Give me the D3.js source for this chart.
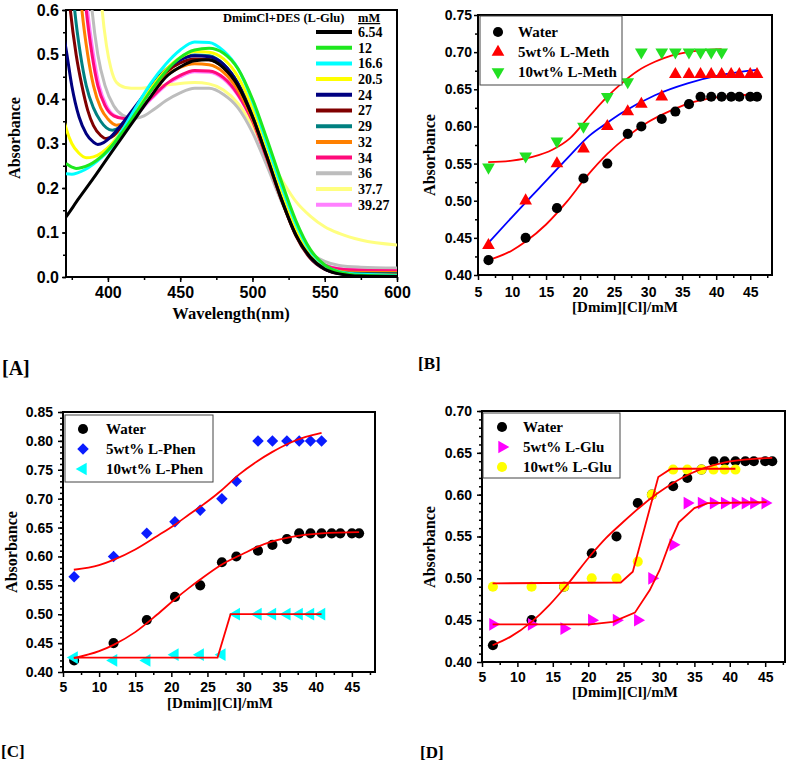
<!DOCTYPE html>
<html>
<head>
<meta charset="utf-8">
<script src="https://cdn.jsdelivr.net/npm/d3@7"></script>
<style>
body { margin: 0; background: #fff; }
</style>
</head>
<body>
<div id="chart"></div>
<script>
// ---------- panel A : spectra (wavelength nm, absorbance) ----------
const concLabels = ["6.54", "12", "16.6", "20.5", "24", "27", "29", "32", "34", "36", "37.7", "39.27"];
const specColors = ["#000000", "#1ee81e", "#00ffff", "#ffff00", "#000080", "#800000",
                    "#008080", "#ff8000", "#ff0a7a", "#bdbdbd", "#ffff80", "#ff80ff"];

const spec654 = [[369,0.126],[371,0.135],[380,0.177],[390,0.222],[400,0.269],[410,0.315],[420,0.361],[430,0.407],[440,0.449],[450,0.472],[460,0.486],[470,0.488],[480,0.47],[490,0.43],[500,0.36],[510,0.27],[520,0.175],[530,0.095],[540,0.045],[550,0.018],[560,0.007],[575,0.002],[600,0.001]];
const spec12 = [[371,0.255],[375,0.247],[378,0.244],[382,0.246],[387,0.252],[392,0.262],[397,0.275],[402,0.292],[410,0.325],[420,0.372],[430,0.42],[440,0.462],[450,0.493],[460,0.51],[470,0.514],[480,0.503],[490,0.468],[500,0.4],[510,0.31],[520,0.215],[530,0.127],[540,0.062],[550,0.027],[560,0.011],[575,0.004],[600,0.002]];
const spec166 = [[371,0.232],[375,0.231],[379,0.234],[384,0.241],[390,0.254],[396,0.27],[402,0.29],[410,0.33],[420,0.385],[430,0.437],[440,0.478],[450,0.51],[460,0.528],[470,0.527],[480,0.508],[490,0.468],[500,0.395],[510,0.3],[520,0.205],[530,0.12],[540,0.058],[550,0.026],[560,0.012],[575,0.006],[600,0.004]];
const spec205 = [[369,0.36],[371,0.335],[375,0.3],[380,0.278],[385,0.268],[390,0.27],[396,0.28],[402,0.297],[410,0.33],[420,0.377],[430,0.425],[440,0.465],[450,0.493],[460,0.507],[470,0.505],[480,0.49],[490,0.45],[500,0.38],[510,0.29],[520,0.195],[530,0.11],[540,0.052],[550,0.022],[560,0.01],[575,0.005],[600,0.004]];
const spec24 = [[369,0.55],[371,0.513],[375,0.43],[380,0.36],[385,0.322],[390,0.303],[393,0.298],[397,0.302],[402,0.315],[410,0.345],[420,0.388],[430,0.43],[440,0.465],[450,0.488],[460,0.497],[470,0.495],[480,0.478],[490,0.435],[500,0.365],[510,0.275],[520,0.18],[530,0.098],[540,0.045],[550,0.018],[560,0.008],[575,0.004],[600,0.003]];
const spec27 = [[370,0.75],[374,0.6],[378,0.5],[382,0.43],[386,0.375],[390,0.34],[395,0.318],[399,0.311],[404,0.318],[410,0.34],[420,0.385],[430,0.428],[440,0.46],[450,0.481],[460,0.49],[470,0.488],[480,0.47],[490,0.43],[500,0.36],[510,0.27],[520,0.175],[530,0.093],[540,0.042],[550,0.017],[560,0.008],[575,0.006],[600,0.006]];
const spec29 = [[372,0.8],[377,0.6],[381,0.5],[385,0.43],[390,0.38],[395,0.35],[399,0.335],[403,0.33],[408,0.336],[415,0.36],[420,0.385],[430,0.43],[440,0.466],[450,0.489],[460,0.499],[470,0.497],[480,0.478],[490,0.435],[500,0.365],[510,0.275],[520,0.18],[530,0.097],[540,0.045],[550,0.02],[560,0.01],[575,0.008],[600,0.008]];
const spec32 = [[377,0.8],[382,0.6],[386,0.5],[390,0.43],[395,0.38],[400,0.355],[406,0.341],[412,0.348],[420,0.378],[430,0.42],[440,0.452],[450,0.471],[460,0.479],[470,0.477],[480,0.46],[490,0.42],[500,0.355],[510,0.268],[520,0.175],[530,0.095],[540,0.045],[550,0.022],[560,0.013],[575,0.01],[600,0.01]];
const spec34 = [[380,0.8],[385,0.6],[389,0.5],[393,0.43],[398,0.385],[404,0.362],[411,0.356],[418,0.365],[425,0.387],[430,0.403],[440,0.433],[450,0.453],[460,0.464],[470,0.463],[480,0.448],[490,0.41],[500,0.35],[510,0.265],[520,0.175],[530,0.1],[540,0.05],[550,0.027],[560,0.018],[575,0.015],[600,0.014]];
const spec36 = [[384,0.8],[389,0.6],[393,0.5],[398,0.43],[404,0.385],[410,0.364],[418,0.356],[425,0.362],[432,0.377],[440,0.396],[450,0.414],[460,0.424],[470,0.424],[480,0.41],[490,0.38],[500,0.325],[510,0.25],[520,0.17],[530,0.1],[540,0.055],[550,0.035],[560,0.026],[575,0.022],[600,0.02]];
const spec377 = [[392,0.8],[396,0.6],[399,0.52],[402,0.47],[406,0.437],[412,0.426],[420,0.424],[430,0.427],[440,0.431],[450,0.435],[460,0.437],[470,0.434],[480,0.42],[490,0.39],[500,0.34],[510,0.275],[520,0.22],[530,0.17],[540,0.137],[550,0.113],[560,0.098],[575,0.083],[600,0.072]];
const spec3927 = [[381,0.8],[386,0.6],[390,0.5],[394,0.43],[399,0.385],[405,0.362],[412,0.356],[420,0.367],[430,0.4],[440,0.43],[450,0.45],[460,0.461],[470,0.46],[480,0.445],[490,0.408],[500,0.348],[510,0.264],[520,0.175],[530,0.1],[540,0.05],[550,0.028],[560,0.019],[575,0.016],[600,0.015]];
const spectra = [spec654, spec12, spec166, spec205, spec24, spec27, spec29, spec32, spec34, spec36, spec377, spec3927];

// ---------- panels B-D : absorbance vs [Dmim][Cl] (mM) ----------
const conc = [6.54, 12, 16.6, 20.5, 24, 27, 29, 32, 34, 36, 37.7, 39.27, 40.8, 42.2, 43.4, 45, 46];
const water = [0.42, 0.45, 0.49, 0.53, 0.55, 0.59, 0.60, 0.61, 0.62, 0.63, 0.64, 0.64, 0.64, 0.64, 0.64, 0.64, 0.64];
const meth5 = [0.44, 0.50, 0.55, 0.57, 0.60, 0.62, 0.63, 0.64, 0.67, 0.67, 0.67, 0.67, 0.67, 0.67, 0.67, 0.67, 0.67];
const meth10 = [0.545, 0.56, 0.58, 0.60, 0.64, 0.66, 0.70, 0.70, 0.70, 0.70, 0.70, 0.70, 0.70];
const phen5 = [0.565, 0.60, 0.64, 0.66, 0.68, 0.70, 0.73, 0.80, 0.80, 0.80, 0.80, 0.80, 0.80];
const phen10 = [0.425, 0.42, 0.42, 0.43, 0.43, 0.43, 0.50, 0.50, 0.50, 0.50, 0.50, 0.50, 0.50];
const glu5 = [0.445, 0.445, 0.44, 0.45, 0.45, 0.45, 0.50, 0.54, 0.59, 0.59, 0.59, 0.59, 0.59, 0.59, 0.59, 0.59];
const glu10 = [0.49, 0.49, 0.49, 0.50, 0.50, 0.52, 0.60, 0.63, 0.63, 0.63, 0.63, 0.63, 0.63];

// fitted curves
const fitWaterB = [[6.5,0.42],[10,0.433],[12,0.445],[15,0.468],[18,0.498],[21,0.533],[24,0.563],[27,0.587],[30,0.606],[33,0.62],[36,0.631],[40,0.639],[46,0.643]];
const fitMeth5 = [[6.5,0.443],[10,0.478],[14,0.517],[18,0.556],[21.3,0.587],[24,0.605],[26.1,0.618],[31,0.642],[35.8,0.658],[40.6,0.669],[46,0.676]];
const fitMeth10 = [[6.5,0.552],[10,0.554],[13,0.559],[16,0.569],[18.5,0.584],[21.3,0.613],[24,0.64],[26.1,0.658],[28.5,0.675],[31,0.687],[33.3,0.695],[35.8,0.7],[40.8,0.704]];
const fitWaterC = [[6.5,0.424],[10,0.436],[12,0.447],[15,0.469],[18,0.499],[20.5,0.526],[22.5,0.546],[24,0.56],[27,0.586],[30,0.605],[32,0.617],[34,0.626],[36.3,0.633],[40.8,0.64],[46,0.642]];
const fitPhen5 = [[6.5,0.577],[10,0.585],[12,0.594],[15,0.612],[18,0.635],[20.5,0.655],[22.5,0.673],[25,0.695],[27,0.715],[29.4,0.742],[31.8,0.764],[34,0.781],[36.3,0.796],[38.6,0.807],[40.8,0.814]];
const fitPhen10 = [[6.5,0.425],[26.4,0.425],[28.2,0.5],[40.8,0.5]];
const fitWaterD = [[6.5,0.42],[9,0.43],[12,0.448],[14.5,0.468],[17,0.492],[20.3,0.527],[22.5,0.548],[24.9,0.567],[27.3,0.585],[29.7,0.601],[32,0.614],[34.4,0.625],[39,0.638],[43.8,0.643],[46,0.644]];
const fitGlu5 = [[6.5,0.445],[20.3,0.445],[23.5,0.448],[26.6,0.459],[28.7,0.486],[30.1,0.51],[31.5,0.542],[32.8,0.567],[35,0.584],[36.9,0.59],[45.2,0.591]];
const fitGlu10 = [[6.5,0.494],[24.6,0.495],[26.3,0.508],[29.9,0.621],[31.7,0.631],[40.8,0.631]];

const SANS = "'Liberation Sans', Arial, sans-serif";
const SERIF = "'Liberation Serif', 'Times New Roman', serif";

const svg = d3.select("#chart").append("svg")
    .attr("width", 789)
    .attr("height", 763)
    .style("display", "block");

// axes + border for one panel
function frame(o) {
  const x = d3.scaleLinear().domain(o.xDom).range([o.left, o.right]);
  const y = d3.scaleLinear().domain(o.yDom).range([o.bottom, o.top]);
  const g = svg.append("g");

  const styleAxis = function(sel, fs) {
    sel.select(".domain").remove();
    sel.selectAll("line").attr("stroke", "#000").attr("stroke-width", 1.5);
    sel.selectAll("text").attr("fill", "#000").style("font-family", SANS)
      .style("font-weight", "bold").style("font-size", fs + "px");
  };

  g.append("g").attr("transform", "translate(0," + o.bottom + ")")
    .call(d3.axisBottom(x).tickValues(o.xMinor).tickSize(3).tickFormat(""))
    .call(s => styleAxis(s, o.fs));
  g.append("g").attr("transform", "translate(0," + o.bottom + ")")
    .call(d3.axisBottom(x).tickValues(o.xTicks).tickSize(5).tickPadding(o.xPad).tickFormat(d3.format("d")))
    .call(s => styleAxis(s, o.fs));
  g.append("g").attr("transform", "translate(" + o.left + ",0)")
    .call(d3.axisLeft(y).tickValues(o.yMinor).tickSize(3).tickFormat(""))
    .call(s => styleAxis(s, o.fs));
  g.append("g").attr("transform", "translate(" + o.left + ",0)")
    .call(d3.axisLeft(y).tickValues(o.yTicks).tickSize(o.yTick).tickPadding(o.yPad).tickFormat(d3.format(o.yFmt)))
    .call(s => styleAxis(s, o.fs));

  g.append("rect")
    .attr("x", o.left).attr("y", o.top)
    .attr("width", o.right - o.left).attr("height", o.bottom - o.top)
    .attr("fill", "none").attr("stroke", "#000").attr("stroke-width", 2);

  g.append("text")
    .attr("transform", "translate(" + o.yLab[0] + "," + o.yLab[1] + ")rotate(-90)")
    .attr("text-anchor", "middle").attr("dy", "0.35em")
    .style("font-family", SERIF).style("font-weight", "bold").style("font-size", "16px")
    .text("Absorbance");
  g.append("text")
    .attr("x", o.xLab[0]).attr("y", o.xLab[1])
    .attr("text-anchor", "middle").attr("dy", "0.35em")
    .style("font-family", SERIF).style("font-weight", "bold").style("font-size", o.xLabSize + "px")
    .text(o.xTitle);
  return {x: x, y: y, g: g};
}

function range(a, b, s) { return d3.range(a, b + s / 2, s); }

// ---------------- panel A ----------------
const A = frame({
  left: 66, right: 397, top: 10, bottom: 277,
  xDom: [371, 600], yDom: [0, 0.6],
  xTicks: range(400, 600, 50), xMinor: range(375, 600, 25),
  yTicks: range(0, 0.6, 0.1), yMinor: range(0, 0.6, 0.05), yFmt: ".1f",
  fs: 16, xPad: 5, yPad: 3, yTick: 4,
  yLab: [14, 138], xLab: [231, 313], xLabSize: 16.5, xTitle: "Wavelength(nm)"
});

svg.append("clipPath").attr("id", "clipA")
  .append("rect").attr("x", 66).attr("y", 10).attr("width", 331).attr("height", 267);

const specLine = d3.line()
    .x(d => A.x(d[0]))
    .y(d => A.y(d[1]))
    .curve(d3.curveMonotoneX);

A.g.append("g").attr("clip-path", "url(#clipA)")
  .selectAll("path")
  .data(spectra.map((s, i) => ({s: s, c: specColors[i]})).reverse())
  .enter().append("path")
    .attr("d", d => specLine(d.s))
    .attr("fill", "none")
    .attr("stroke", d => d.c)
    .attr("stroke-width", 3);

// legend of panel A
const legA = svg.append("g");
legA.append("text").attr("x", 223).attr("y", 22)
  .style("font-family", SERIF).style("font-weight", "bold").style("font-size", "12.5px")
  .text("DmimCl+DES (L-Glu)");
legA.append("text").attr("x", 358).attr("y", 22)
  .style("font-family", SERIF).style("font-weight", "bold").style("font-size", "12.5px")
  .style("text-decoration", "underline")
  .text("mM");
concLabels.forEach(function(lab, i) {
  const yy = 32 + i * 15.7;
  legA.append("line").attr("x1", 316).attr("x2", 352).attr("y1", yy).attr("y2", yy)
    .attr("stroke", specColors[i]).attr("stroke-width", 4);
  legA.append("text").attr("x", 358).attr("y", yy).attr("dy", "0.35em")
    .style("font-family", SERIF).style("font-weight", "bold").style("font-size", "14px")
    .text(lab);
});

// ---------------- markers, fits, legends ----------------
function marker(kind, color) {
  const shapes = {
    circle: [d3.symbolCircle, 80, 0],
    up: [d3.symbolTriangle, 70, 0],
    down: [d3.symbolTriangle, 70, 180],
    left: [d3.symbolTriangle, 70, -90],
    right: [d3.symbolTriangle, 70, 90],
    diamond: [d3.symbolSquare, 66, 45]
  };
  const s = shapes[kind];
  return {path: d3.symbol().type(s[0]).size(s[1])(), rot: s[2], color: color};
}

function scatter(P, xs, ys, m) {
  P.g.append("g").selectAll("path")
    .data(ys.map((v, i) => [xs[i], v]))
    .enter().append("path")
      .attr("d", m.path)
      .attr("transform", d => "translate(" + P.x(d[0]) + "," + P.y(d[1]) + ")rotate(" + m.rot + ")")
      .attr("fill", m.color);
}

function fit(P, pts, color, curve) {
  const line = d3.line().x(d => P.x(d[0])).y(d => P.y(d[1])).curve(curve);
  P.g.append("path").attr("d", line(pts))
    .attr("fill", "none").attr("stroke", color).attr("stroke-width", 1.8);
}

function legend(box, items) {
  const g = svg.append("g");
  g.append("rect").attr("x", box[0]).attr("y", box[1])
    .attr("width", box[2] - box[0]).attr("height", box[3] - box[1])
    .attr("fill", "#fff").attr("stroke", "#444").attr("stroke-width", 1);
  items.forEach(function(it, i) {
    const yy = box[4] + i * 20;
    g.append("path").attr("d", it.m.path)
      .attr("transform", "translate(" + box[5] + "," + yy + ")rotate(" + it.m.rot + ")")
      .attr("fill", it.m.color);
    g.append("text").attr("x", box[6]).attr("y", yy).attr("dy", "0.35em")
      .style("font-family", SERIF).style("font-weight", "bold").style("font-size", "15px")
      .text(it.label);
  });
}

function panelLabel(txt, x, y, size) {
  svg.append("text").attr("x", x).attr("y", y)
    .style("font-family", SERIF).style("font-weight", "bold").style("font-size", size + "px")
    .text(txt);
}

const mWater = marker("circle", "#000");

// ---------------- panel B ----------------
const B = frame({
  left: 478, right: 772, top: 15, bottom: 275,
  xDom: [5, 48.2], yDom: [0.40, 0.75],
  xTicks: range(5, 45, 5), xMinor: range(7.5, 47.5, 5),
  yTicks: range(0.40, 0.75, 0.05), yMinor: range(0.425, 0.75, 0.05), yFmt: ".2f",
  fs: 14, xPad: 7, yPad: 2, yTick: 4,
  yLab: [429, 155], xLab: [625, 307], xLabSize: 15, xTitle: "[Dmim][Cl]/mM"
});
const mMeth5 = marker("up", "#ff0000");
const mMeth10 = marker("down", "#22e022");
legend([480, 16, 622, 85, 32, 498, 518], [
  {m: mWater, label: "Water"}, {m: mMeth5, label: "5wt% L-Meth"}, {m: mMeth10, label: "10wt% L-Meth"}]);
fit(B, fitWaterB, "#ff0000", d3.curveMonotoneX);
fit(B, fitMeth5, "#0000ff", d3.curveMonotoneX);
fit(B, fitMeth10, "#ff0000", d3.curveMonotoneX);
scatter(B, conc, water, mWater);
scatter(B, conc, meth5, mMeth5);
scatter(B, conc, meth10, mMeth10);
panelLabel("[B]", 418, 369, 17);

// ---------------- panel C ----------------
const C = frame({
  left: 63, right: 375, top: 412, bottom: 672,
  xDom: [5, 48.2], yDom: [0.40, 0.85],
  xTicks: range(5, 45, 5), xMinor: range(7.5, 47.5, 5),
  yTicks: range(0.40, 0.85, 0.05), yMinor: range(0.41, 0.85, 0.01), yFmt: ".2f",
  fs: 14, xPad: 5, yPad: 5, yTick: 5,
  yLab: [11, 552], xLab: [220, 703], xLabSize: 15, xTitle: "[Dmim][Cl]/mM"
});
const mPhen5 = marker("diamond", "#0a1cff");
const mPhen10 = marker("left", "#00ffff");
legend([65, 415, 213, 482, 429, 83, 106], [
  {m: mWater, label: "Water"}, {m: mPhen5, label: "5wt% L-Phen"}, {m: mPhen10, label: "10wt% L-Phen"}]);
scatter(C, conc, water, mWater);
scatter(C, conc, phen5, mPhen5);
scatter(C, conc, phen10, mPhen10);
fit(C, fitWaterC, "#ff0000", d3.curveMonotoneX);
fit(C, fitPhen5, "#ff0000", d3.curveMonotoneX);
fit(C, fitPhen10, "#ff0000", d3.curveLinear);
panelLabel("[C]", 1, 757, 17);

// ---------------- panel D ----------------
const D = frame({
  left: 482, right: 785, top: 411, bottom: 662,
  xDom: [5, 47.8], yDom: [0.40, 0.70],
  xTicks: range(5, 45, 5), xMinor: range(7.5, 47.5, 5),
  yTicks: range(0.40, 0.70, 0.05), yMinor: range(0.41, 0.70, 0.01), yFmt: ".2f",
  fs: 14, xPad: 5, yPad: 5, yTick: 5,
  yLab: [429, 547], xLab: [625, 692], xLabSize: 15, xTitle: "[Dmim][Cl]/mM"
});
const mGlu5 = marker("right", "#ff00ff");
const mGlu10 = marker("circle", "#ffff00");
legend([483, 413, 620, 478, 427, 502, 523], [
  {m: mWater, label: "Water"}, {m: mGlu5, label: "5wt% L-Glu"}, {m: mGlu10, label: "10wt% L-Glu"}]);
scatter(D, conc, water, mWater);
scatter(D, conc, glu5, mGlu5);
scatter(D, conc, glu10, mGlu10);
fit(D, fitWaterD, "#ff0000", d3.curveMonotoneX);
fit(D, fitGlu5, "#ff0000", d3.curveLinear);
fit(D, fitGlu10, "#ff0000", d3.curveLinear);
panelLabel("[D]", 420, 758, 17);

panelLabel("[A]", 2, 375, 20);
</script>
</body>
</html>
